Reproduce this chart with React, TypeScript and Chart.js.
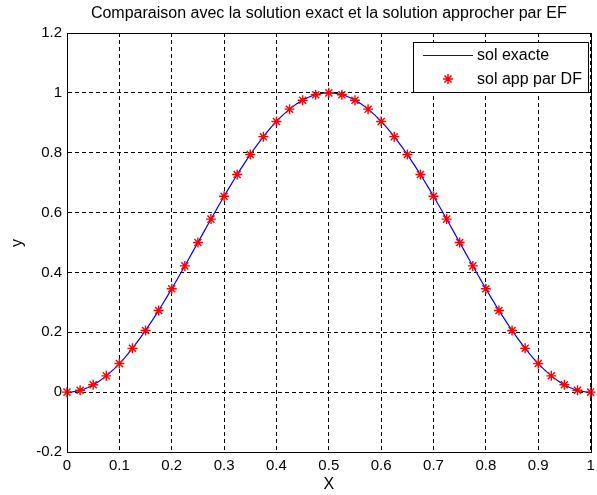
import React, { useEffect, useRef } from "react";
import { Chart, registerables } from "chart.js";

Chart.register(...registerables);

const titleText = "Comparaison avec la solution exact et la solution approcher par EF";
const xLabel = "X";
const yLabel = "y";
const legendLabels = ["sol exacte", "sol app par DF"];

const xTicks = [0, 0.1, 0.2, 0.3, 0.4, 0.5, 0.6, 0.7, 0.8, 0.9, 1];
const yTicks = [-0.2, 0, 0.2, 0.4, 0.6, 0.8, 1, 1.2];

const exactX = [
  0, 0.01, 0.02, 0.03, 0.04, 0.05, 0.06, 0.07, 0.08, 0.09,
  0.1, 0.11, 0.12, 0.13, 0.14, 0.15, 0.16, 0.17, 0.18, 0.19,
  0.2, 0.21, 0.22, 0.23, 0.24, 0.25, 0.26, 0.27, 0.28, 0.29,
  0.3, 0.31, 0.32, 0.33, 0.34, 0.35, 0.36, 0.37, 0.38, 0.39,
  0.4, 0.41, 0.42, 0.43, 0.44, 0.45, 0.46, 0.47, 0.48, 0.49,
  0.5,
  0.51, 0.52, 0.53, 0.54, 0.55, 0.56, 0.57, 0.58, 0.59, 0.6,
  0.61, 0.62, 0.63, 0.64, 0.65, 0.66, 0.67, 0.68, 0.69, 0.7,
  0.71, 0.72, 0.73, 0.74, 0.75, 0.76, 0.77, 0.78, 0.79, 0.8,
  0.81, 0.82, 0.83, 0.84, 0.85, 0.86, 0.87, 0.88, 0.89, 0.9,
  0.91, 0.92, 0.93, 0.94, 0.95, 0.96, 0.97, 0.98, 0.99, 1,
];

const exactY = [
  0, 0.001, 0.0039, 0.0089, 0.0157, 0.0245, 0.0351, 0.0476, 0.0618, 0.0778,
  0.0955, 0.1147, 0.1355, 0.1577, 0.1813, 0.2061, 0.2321, 0.2591, 0.2871, 0.3159,
  0.3455, 0.3757, 0.4063, 0.4373, 0.4686, 0.5, 0.5314, 0.5627, 0.5937, 0.6243,
  0.6545, 0.6841, 0.7129, 0.7409, 0.7679, 0.7939, 0.8187, 0.8423, 0.8645, 0.8853,
  0.9045, 0.9222, 0.9382, 0.9524, 0.9649, 0.9755, 0.9843, 0.9911, 0.9961, 0.999,
  1,
  0.999, 0.9961, 0.9911, 0.9843, 0.9755, 0.9649, 0.9524, 0.9382, 0.9222, 0.9045,
  0.8853, 0.8645, 0.8423, 0.8187, 0.7939, 0.7679, 0.7409, 0.7129, 0.6841, 0.6545,
  0.6243, 0.5937, 0.5627, 0.5314, 0.5, 0.4686, 0.4373, 0.4063, 0.3757, 0.3455,
  0.3159, 0.2871, 0.2591, 0.2321, 0.2061, 0.1813, 0.1577, 0.1355, 0.1147, 0.0955,
  0.0778, 0.0618, 0.0476, 0.0351, 0.0245, 0.0157, 0.0089, 0.0039, 0.001, 0,
];

const approxX = [
  0, 0.025, 0.05, 0.075, 0.1, 0.125, 0.15, 0.175, 0.2, 0.225,
  0.25, 0.275, 0.3, 0.325, 0.35, 0.375, 0.4, 0.425, 0.45, 0.475,
  0.5,
  0.525, 0.55, 0.575, 0.6, 0.625, 0.65, 0.675, 0.7, 0.725, 0.75,
  0.775, 0.8, 0.825, 0.85, 0.875, 0.9, 0.925, 0.95, 0.975, 1,
];

const approxY = [
  0, 0.0062, 0.0245, 0.0545, 0.0955, 0.1464, 0.2061, 0.273, 0.3455, 0.4218,
  0.5, 0.5782, 0.6545, 0.727, 0.7939, 0.8536, 0.9045, 0.9455, 0.9755, 0.9938,
  1,
  0.9938, 0.9755, 0.9455, 0.9045, 0.8536, 0.7939, 0.727, 0.6545, 0.5782, 0.5,
  0.4218, 0.3455, 0.273, 0.2061, 0.1464, 0.0955, 0.0545, 0.0245, 0.0062, 0,
];

const FONT = "'Liberation Sans', Arial, Helvetica, sans-serif";

function drawStar(ctx: CanvasRenderingContext2D, sx: number, sy: number, r: number) {
  ctx.beginPath();
  ctx.moveTo(sx - r, sy); ctx.lineTo(sx + r, sy);
  ctx.moveTo(sx, sy - r); ctx.lineTo(sx, sy + r);
  const d = r * 0.7071;
  ctx.moveTo(sx - d, sy - d); ctx.lineTo(sx + d, sy + d);
  ctx.moveTo(sx - d, sy + d); ctx.lineTo(sx + d, sy - d);
  ctx.stroke();
}

const overlayPlugin = {
  id: "overlay",
  afterDraw(chart: any) {
    const ctx = chart.ctx as CanvasRenderingContext2D;
    const ca = chart.chartArea;
    ctx.save();
    ctx.strokeStyle = "#000";
    ctx.lineWidth = 1;
    ctx.setLineDash([]);
    ctx.strokeRect(Math.round(ca.left) + 0.5, Math.round(ca.top) + 0.5, Math.round(ca.right - ca.left), Math.round(ca.bottom - ca.top));

    ctx.fillStyle = "#000";
    ctx.font = `16px ${FONT}`;
    ctx.textAlign = "center";
    ctx.textBaseline = "middle";
    ctx.fillText(titleText, (ca.left + ca.right) / 2, 14);

    ctx.font = `16px ${FONT}`;
    ctx.fillText(xLabel, (ca.left + ca.right) / 2, 485);
    ctx.save();
    ctx.translate(18, 243);
    ctx.rotate(-Math.PI / 2);
    ctx.fillText(yLabel, 0, 0);
    ctx.restore();

    // legend
    const lx = 413, ly = 42, lw = 175, lh = 50;
    ctx.fillStyle = "#fff";
    ctx.fillRect(lx, ly, lw, lh);
    ctx.strokeStyle = "#000";
    ctx.lineWidth = 1;
    ctx.strokeRect(lx + 0.5, ly + 0.5, lw, lh);
    ctx.fillStyle = "#0000ff";
    ctx.fillRect(423, 55, 50, 1);
    ctx.strokeStyle = "#ff0000";
    ctx.lineWidth = 1.5;
    drawStar(ctx, 448, 79, 5);
    ctx.fillStyle = "#000";
    ctx.font = `16px ${FONT}`;
    ctx.textAlign = "left";
    ctx.fillText(legendLabels[0], 477, 56);
    ctx.fillText(legendLabels[1], 477, 80);
    ctx.restore();
  },
};

export default function App() {
  const canvasRef = useRef<HTMLCanvasElement | null>(null);

  useEffect(() => {
    document.body.style.margin = "0";
    const canvas = canvasRef.current;
    if (!canvas) return;
    const chart = new Chart(canvas, {
      type: "scatter",
      data: {
        datasets: [
          {
            label: legendLabels[1],
            data: approxX.map((x, i) => ({ x, y: approxY[i] })),
            showLine: false,
            pointStyle: "star",
            pointRadius: 5,
            pointBorderColor: "#ff0000",
            pointBackgroundColor: "#ff0000",
            pointBorderWidth: 1.4,
            order: 0,
            clip: false as any,
          },
          {
            label: legendLabels[0],
            data: exactX.map((x, i) => ({ x, y: exactY[i] })),
            showLine: true,
            borderColor: "#0000ff",
            borderWidth: 1.2,
            pointRadius: 0,
            tension: 0,
            order: 1,
          },
        ],
      },
      options: {
        animation: false,
        responsive: false,
        devicePixelRatio: 1,
        layout: { padding: { top: 33, right: 1, left: 0, bottom: 0 } },
        plugins: {
          legend: { display: false },
          title: { display: false },
          tooltip: { enabled: false },
        },
        scales: {
          x: {
            type: "linear",
            min: 0,
            max: 1,
            afterBuildTicks: (scale: any) => {
              scale.ticks = xTicks.map((v) => ({ value: v }));
            },
            afterFit: (scale: any) => {
              scale.height = 43;
              scale.paddingLeft = 0;
              scale.paddingRight = 0;
            },
            ticks: {
              color: "#000",
              font: { family: FONT, size: 15 },
              padding: 5,
              maxRotation: 0,
              autoSkip: false,
              callback: (v: any) => String(Math.round(Number(v) * 10) / 10),
            },
            grid: {
              color: "#000",
              lineWidth: 1,
              drawTicks: false,
              tickLength: 0,
            },
            border: { display: true, color: "#000", dash: [4, 3] },
          },
          y: {
            type: "linear",
            min: -0.2,
            max: 1.2,
            afterBuildTicks: (scale: any) => {
              scale.ticks = yTicks.map((v) => ({ value: v }));
            },
            afterFit: (scale: any) => {
              scale.width = 67;
              scale.paddingTop = 0;
              scale.paddingBottom = 0;
            },
            ticks: {
              color: "#000",
              font: { family: FONT, size: 15 },
              padding: 5,
              autoSkip: false,
              callback: (v: any) => String(Math.round(Number(v) * 10) / 10),
            },
            grid: {
              color: "#000",
              lineWidth: 1,
              drawTicks: false,
              tickLength: 0,
            },
            border: { display: true, color: "#000", dash: [4, 3] },
          },
        },
      },
      plugins: [overlayPlugin],
    } as any);
    return () => chart.destroy();
  }, []);

  return (
    <div style={{ position: "absolute", left: 0, top: 0, width: 597, height: 495, background: "#fff" }}>
      <canvas ref={canvasRef} width={597} height={495} style={{ display: "block" }} />
    </div>
  );
}
